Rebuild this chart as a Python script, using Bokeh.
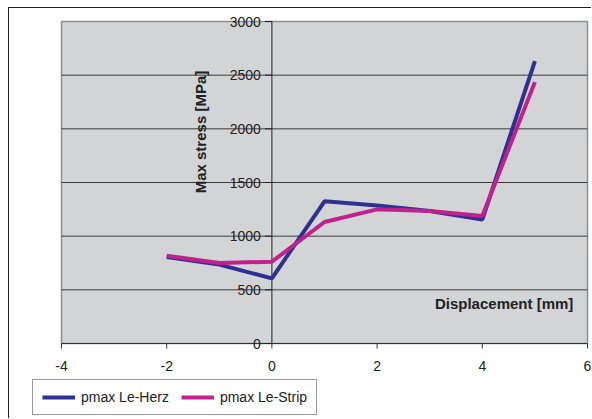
from math import pi

from bokeh.core.properties import value
from bokeh.embed import file_html
from bokeh.models import Label, Legend, LegendItem, Range1d
from bokeh.plotting import figure
from bokeh.resources import INLINE

# Maximum contact stress against displacement for two models
displacement = [-2, -1, 0, 1, 2, 3, 4, 5]
pmax_le_herz = [806, 735, 607, 1325, 1285, 1235, 1155, 2630]
pmax_le_strip = [818, 750, 762, 1132, 1250, 1235, 1187, 2435]

x_ticks = [-4, -2, 0, 2, 4, 6]
y_ticks = [0, 500, 1000, 1500, 2000, 2500, 3000]

X_MIN, X_MAX = x_ticks[0], x_ticks[-1]
Y_MIN, Y_MAX = y_ticks[0], y_ticks[-1]

FONT = "Liberation Sans"
INK = "#222222"

# canvas and plotting-area geometry (pixels)
W, H = 583, 411
AREA_L, AREA_R, AREA_T, AREA_B = 52, 578, 13, 335
sx = (AREA_R - AREA_L) / (X_MAX - X_MIN)
sy = (AREA_B - AREA_T) / (Y_MAX - Y_MIN)

p = figure(
    width=W, height=H,
    x_range=Range1d(X_MIN - AREA_L / sx, X_MAX + (W - AREA_R) / sx),
    y_range=Range1d(Y_MIN - (H - AREA_B) / sy, Y_MAX + AREA_T / sy),
    output_backend="svg", toolbar_location=None,
    x_axis_type=None, y_axis_type=None,
    min_border=0,
)
p.margin = (7, 0, 0, 8)
p.styles = {"border-top": "1.5px solid #222", "border-left": "1.5px solid #222"}
p.outline_line_color = None
p.background_fill_color = "white"
p.border_fill_color = "white"
p.grid.visible = False

# plotting area
p.quad(left=X_MIN, right=X_MAX, bottom=Y_MIN, top=Y_MAX,
       fill_color="#d3d4d6", line_color="#8e8e8e", line_width=1.5)

# horizontal gridlines
inner = y_ticks[1:-1]
p.segment(x0=[X_MIN] * len(inner), x1=[X_MAX] * len(inner), y0=inner, y1=inner,
          line_color="#3c3c3c", line_width=1)

# x axis along y = 0
p.segment(x0=[X_MIN], x1=[X_MAX], y0=[Y_MIN], y1=[Y_MIN], line_color="#333333", line_width=1.2)
p.ray(x=x_ticks, y=[Y_MIN] * len(x_ticks), length=5, length_units="screen",
      angle=-pi / 2, line_color="#333333", line_width=1)
p.text(x=x_ticks, y=[Y_MIN] * len(x_ticks), text=[str(t) for t in x_ticks],
       y_offset=22, text_align="center", text_baseline="middle",
       text_font=value(FONT), text_font_size="14px", text_color=INK)

# y axis crossing at x = 0
p.segment(x0=[0], x1=[0], y0=[Y_MIN], y1=[Y_MAX], line_color=INK, line_width=1)
p.ray(x=[0] * len(y_ticks), y=y_ticks, length=7, length_units="screen",
      angle=pi, line_color=INK, line_width=1)
p.text(x=[0] * len(y_ticks), y=y_ticks, text=[str(t) for t in y_ticks],
       x_offset=-11, text_align="right", text_baseline="middle",
       text_font=value(FONT), text_font_size="14px", text_color=INK)

r_herz = p.line(displacement, pmax_le_herz, line_color="#2e3192", line_width=4)
r_strip = p.line(displacement, pmax_le_strip, line_color="#c0228c", line_width=4)

p.add_layout(Label(
    x=5.73, y=376, text="Displacement [mm]", text_align="right",
    text_baseline="middle", text_font=FONT, text_font_size="15px",
    text_font_style="bold", text_color=INK,
))
p.add_layout(Label(
    x=-1.35, y=1970, text="Max stress [MPa]", angle=pi / 2,
    text_align="center", text_baseline="middle", text_font=FONT,
    text_font_size="15px", text_font_style="bold", text_color=INK,
))

legend = Legend(
    items=[
        LegendItem(label="pmax Le-Herz", renderers=[r_herz]),
        LegendItem(label="pmax Le-Strip", renderers=[r_strip]),
    ],
    orientation="horizontal",
    location=(23, 4),
    glyph_width=33, glyph_height=16,
    label_standoff=6, spacing=12, padding=9, margin=0,
    label_text_font=FONT, label_text_font_size="14px",
    label_text_color=INK,
    border_line_color="#333333", border_line_width=1,
    background_fill_color="white", background_fill_alpha=1,
)
p.add_layout(legend, "center")

open("out.html", "w").write(file_html(p, INLINE))
